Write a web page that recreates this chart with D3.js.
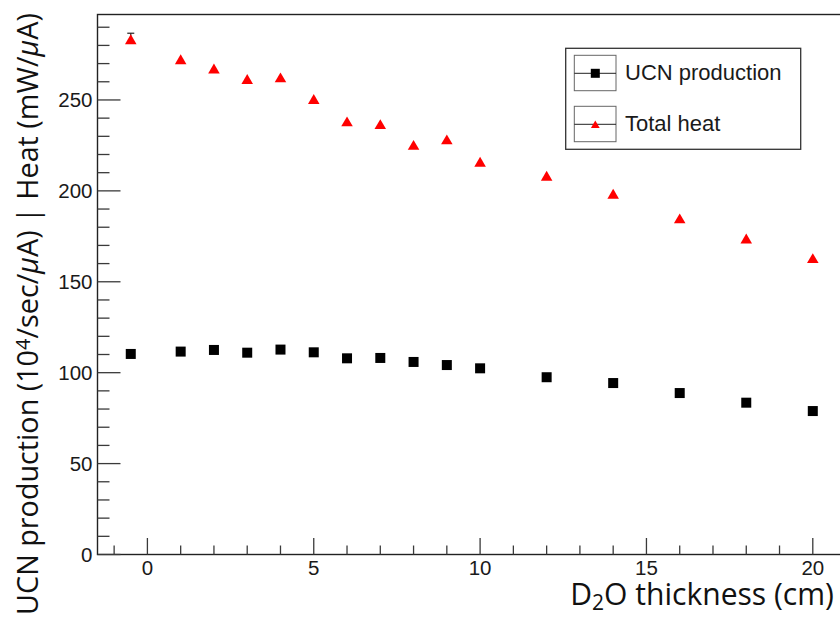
<!DOCTYPE html>
<html>
<head>
<meta charset="utf-8">
<script src="https://cdn.jsdelivr.net/npm/d3@7"></script>
<style>
  html, body { margin: 0; padding: 0; background: #fff; }
  svg { display: block; }
</style>
</head>
<body>
<svg id="chart" width="840" height="618"></svg>
<script>
// D2O thickness scan: UCN production and total heat load
const thickness = [-0.5, 1, 2, 3, 4, 5, 6, 7, 8, 9, 10, 12, 14, 16, 18, 20];
const ucnProduction = [110.3, 111.6, 112.5, 111.0, 112.7, 111.2, 107.9, 108.1, 105.9, 104.2, 102.4, 97.5, 94.3, 88.8, 83.5, 78.9];
const totalHeat = [283.4, 272.4, 267.3, 261.5, 262.4, 250.5, 238.2, 236.7, 225.3, 228.3, 216.0, 208.3, 198.4, 184.9, 173.8, 163.0];
const totalHeatErrUp = [3.3, 0, 0, 0, 0, 0, 0, 0, 0, 0, 0, 0, 0, 0, 0, 0];
const xTicks = [0, 5, 10, 15, 20];
const yTicks = [0, 50, 100, 150, 200, 250];
const legendLabels = ["UCN production", "Total heat"];

const svg = d3.select("#chart");

const x = d3.scaleLinear().domain([-1.5, 21.5]).range([97.5, 862.7]);
const y = d3.scaleLinear().domain([0, 297]).range([554.5, 14.5]);

const frameColor = "#222";
const tickColor = "#3a3a3a";

// frame (right edge lies beyond the canvas)
svg.append("rect")
  .attr("x", x.range()[0]).attr("y", y.range()[1])
  .attr("width", x.range()[1] - x.range()[0])
  .attr("height", y.range()[0] - y.range()[1])
  .attr("fill", "none").attr("stroke", frameColor).attr("stroke-width", 1.4);

// x axis ticks (inside the frame)
const xMinor = d3.range(-1, 22, 1);
const xAx = svg.append("g").attr("transform", `translate(0,${y.range()[0]})`);
xAx.selectAll("line").data(xMinor).join("line")
  .attr("x1", d => x(d)).attr("x2", d => x(d))
  .attr("y1", 0).attr("y2", d => xTicks.includes(d) ? -16.5 : -9)
  .attr("stroke", tickColor).attr("stroke-width", 1.3);
xAx.selectAll("text").data(xTicks).join("text")
  .attr("x", d => x(d)).attr("y", 20)
  .attr("text-anchor", "middle")
  .attr("font-family", "'Liberation Sans', Arial, sans-serif")
  .attr("font-size", 20.5).attr("fill", "#1a1a1a")
  .text(d => d3.format("d")(d));

// y axis ticks
const yMinor = d3.range(0, 297, 10);
const yAx = svg.append("g").attr("transform", `translate(${x.range()[0]},0)`);
yAx.selectAll("line").data(yMinor).join("line")
  .attr("y1", d => y(d)).attr("y2", d => y(d))
  .attr("x1", 0).attr("x2", d => yTicks.includes(d) ? 23 : 12)
  .attr("stroke", tickColor).attr("stroke-width", 1.3);
yAx.selectAll("text").data(yTicks).join("text")
  .attr("x", -5).attr("y", d => y(d))
  .attr("dy", "0.36em")
  .attr("text-anchor", "end")
  .attr("font-family", "'Liberation Sans', Arial, sans-serif")
  .attr("font-size", 20.5).attr("fill", "#1a1a1a")
  .text(d => d);

// marker shapes
const sq = 10;
const triPath = (cx, cy, s) => {
  const w = s * 0.55, h = s * 0.47;
  return `M${cx},${cy - h}L${cx + w},${cy + h}L${cx - w},${cy + h}Z`;
};

// upper error bars on heat points
const errData = thickness.map((t, i) => ({ t, v: totalHeat[i], e: totalHeatErrUp[i] })).filter(d => d.e > 0);
const errG = svg.append("g").attr("stroke", "#222").attr("stroke-width", 1.2);
errG.selectAll("line.bar").data(errData).join("line").attr("class", "bar")
  .attr("x1", d => x(d.t)).attr("x2", d => x(d.t))
  .attr("y1", d => y(d.v)).attr("y2", d => y(d.v + d.e));
errG.selectAll("line.cap").data(errData).join("line").attr("class", "cap")
  .attr("x1", d => x(d.t) - 3.5).attr("x2", d => x(d.t) + 3.5)
  .attr("y1", d => y(d.v + d.e)).attr("y2", d => y(d.v + d.e));

svg.append("g").selectAll("rect").data(thickness).join("rect")
  .attr("x", d => x(d) - sq / 2)
  .attr("y", (d, i) => y(ucnProduction[i]) - sq / 2)
  .attr("width", sq).attr("height", sq)
  .attr("fill", "#000");

svg.append("g").selectAll("path").data(thickness).join("path")
  .attr("d", (d, i) => triPath(x(d), y(totalHeat[i]), 10.5))
  .attr("fill", "#ff0000");

// legend
const lg = svg.append("g");
lg.append("rect").attr("x", 565.7).attr("y", 48.3).attr("width", 235).attr("height", 101)
  .attr("fill", "#fff").attr("stroke", "#333").attr("stroke-width", 1.3);
const entryY = [55.3, 106.3];
legendLabels.forEach((lab, i) => {
  const g = lg.append("g").attr("transform", `translate(0,${entryY[i]})`);
  g.append("rect").attr("x", 574.3).attr("y", 0).attr("width", 41.7).attr("height", 35.4)
    .attr("fill", "none").attr("stroke", "#666").attr("stroke-width", 1);
  g.append("line").attr("x1", 574.3).attr("x2", 616).attr("y1", 18).attr("y2", 18)
    .attr("stroke", "#222").attr("stroke-width", 1);
  if (i === 0) {
    g.append("rect").attr("x", 595.3 - 4.5).attr("y", 18 - 4.5).attr("width", 9).attr("height", 9).attr("fill", "#000");
  } else {
    g.append("path").attr("d", triPath(595.3, 18, 8)).attr("fill", "#ff0000");
  }
  g.append("text").attr("x", 625).attr("y", 24.7)
    .attr("font-family", "'Liberation Sans', Arial, sans-serif")
    .attr("font-size", 22).attr("fill", "#1a1a1a")
    .text(lab);
});

// axis titles
const titleFont = "'Open Sans', 'Noto Sans', sans-serif";
function fitText(sel, target) {
  const fs = parseFloat(sel.attr("font-size"));
  const w = sel.node().getBBox().width;
  sel.attr("font-size", fs * target / w);
}

const xt = svg.append("text")
  .attr("x", 834).attr("y", 605)
  .attr("text-anchor", "end")
  .attr("font-family", titleFont).attr("font-size", 27).attr("fill", "#111");
xt.append("tspan").text("D");
xt.append("tspan").attr("baseline-shift", "-25%").attr("font-size", "70%").text("2");
xt.append("tspan").text("O thickness (cm)");
fitText(xt, 264);

const yt = svg.append("text")
  .attr("transform", "translate(38,314) rotate(-90)")
  .attr("text-anchor", "middle")
  .attr("font-family", titleFont).attr("font-size", 27).attr("fill", "#111");
yt.append("tspan").text("UCN production (10");
yt.append("tspan").attr("baseline-shift", "38%").attr("font-size", "70%").text("4");
yt.append("tspan").text("/sec/");
yt.append("tspan").attr("font-style", "italic").text("μ");
yt.append("tspan").text("A) | Heat (mW/");
yt.append("tspan").attr("font-style", "italic").text("μ");
yt.append("tspan").text("A)");
fitText(yt, 602);
</script>
</body>
</html>
